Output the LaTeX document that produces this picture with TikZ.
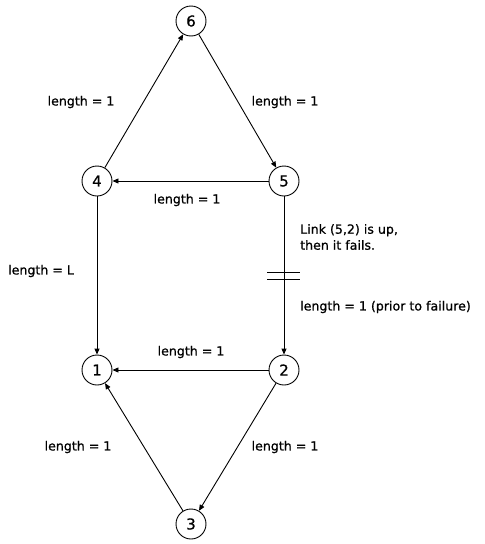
\documentclass[tikz,border=0pt]{standalone}
\usepackage{fontspec}
\setmainfont{DejaVu Sans}
\newfontfamily\lblfont[FakeBold=0.8]{DejaVu Sans}
\usetikzlibrary{arrows.meta}
\begin{document}
\begin{tikzpicture}[x=1pt,y=-1pt,
  vtx/.style={circle,draw,line width=0.9pt,minimum size=30pt,inner sep=0pt,font=\lblfont\fontsize{15}{16}\selectfont},
  lbl/.style={font=\lblfont\fontsize{12.6}{16}\selectfont,inner sep=0pt,align=left},
  edge/.style={line width=0.9pt,-{Triangle[length=6pt,width=5pt]}}]
\useasboundingbox (0,0) rectangle (485,544);
\node[vtx] (n6) at (191,21) {6};
\node[vtx] (n4) at (97,181) {4};
\node[vtx] (n5) at (284,181) {5};
\node[vtx] (n1) at (97,370) {1};
\node[vtx] (n2) at (284,370) {2};
\node[vtx] (n3) at (191,524) {3};
\draw[edge] (n4) -- (n6);
\draw[edge] (n6) -- (n5);
\draw[edge] (n5) -- (n4);
\draw[edge] (n4) -- (n1);
\draw[edge] (n5) -- (n2);
\draw[edge] (n2) -- (n1);
\draw[edge] (n2) -- (n3);
\draw[edge] (n3) -- (n1);
\coordinate (b1) at (267,272);
\coordinate (b2) at (300,272);
\coordinate (b3) at (267,279);
\coordinate (b4) at (300,279);
\draw[line width=0.9pt] (b1) -- (b2);
\draw[line width=0.9pt] (b3) -- (b4);
\node[lbl] (l46) at (81,102) {length = 1};
\node[lbl] (l65) at (285,102) {length = 1};
\node[lbl] (l54) at (187,200) {length = 1};
\node[lbl,anchor=west] (lnk) at (300,237) {Link (5,2) is up,\\then it fails.};
\node[lbl,anchor=west] (l52) at (300,307) {length = 1 (prior to failure)};
\node[lbl,anchor=west] (l41) at (8,271) {length = L};
\node[lbl] (l21) at (191,352) {length = 1};
\node[lbl] (l31) at (78,447) {length = 1};
\node[lbl] (l23) at (285,447) {length = 1};
\end{tikzpicture}
\end{document}
